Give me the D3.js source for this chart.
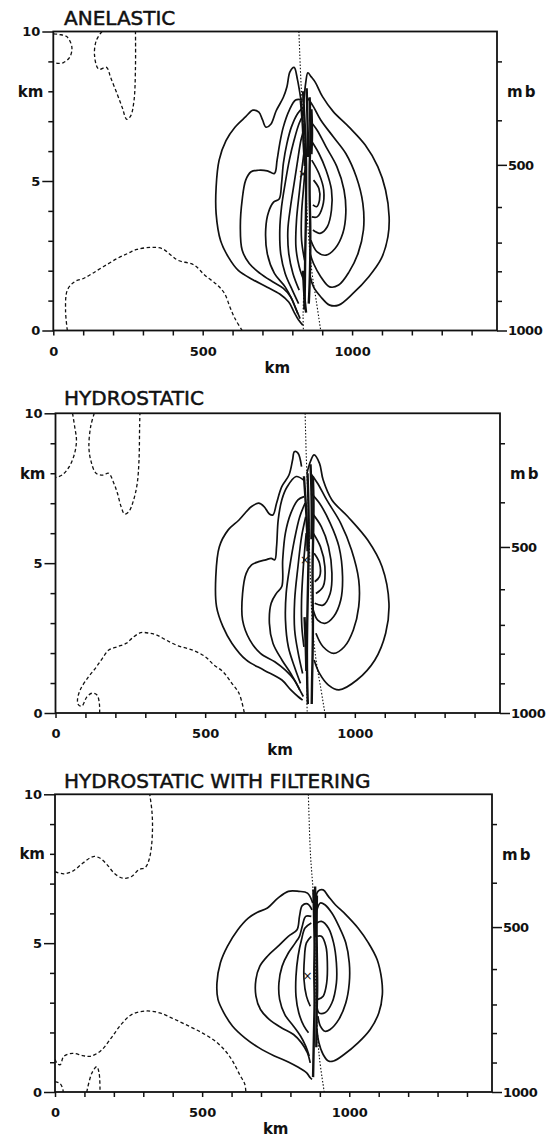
<!DOCTYPE html>
<html>
<head>
<meta charset="utf-8">
<script src="https://cdn.jsdelivr.net/npm/d3@7"></script>
<style>
  html, body { margin: 0; padding: 0; background: #fff; }
  svg { display: block; }
</style>
</head>
<body>
<svg id="chart" width="553" height="1137"></svg>
<script>
// Vertical cross-sections of vertical velocity: three model versions

const titles = ["ANELASTIC", "HYDROSTATIC", "HYDROSTATIC WITH FILTERING"];

// axis values
const xLabelValues = [0, 500, 1000];
const kmLabelValues = [0, 5, 10];
const mbTicks = [1000, 900, 800, 700, 600, 500, 400, 300];
const mbHeights = [0, 0.99, 1.98, 2.94, 4.13, 5.54, 7.03, 9.0]; // km
const mbLabelValues = [500, 1000];

// ---- ANELASTIC (km, km) ----
const anelasticSolid = [
  [[829,7.7],[817,8.4],[806,8.8],[792,8.65],[782,8.15],[770,7.8],[746,7.35],[728,6.9],[712,6.8],[700,7.05],[688,7.3],[668,7.37],[644,7.15],[608,6.8],[578,6.35],[555,5.7],[545,4.8],[545,3.9],[560,3.0],[585,2.47],[620,2.0],[668,1.7],[716,1.45],[758,1.22],[788,0.95],[805,0.63],[821,0.35],[835,0.18]],
  [[835,7.71],[811,7.71],[790,7.37],[770,6.81],[758,6.26],[749,5.7],[740,5.25],[716,5.34],[686,5.36],[662,5.31],[644,5.03],[632,4.36],[626,3.47],[632,2.69],[656,2.24],[692,1.91],[734,1.63],[770,1.41],[794,1.13],[811,0.74],[826,0.4]],
  [[838,7.48],[818,7.26],[797,6.81],[782,6.26],[770,5.59],[764,4.92],[756,4.4],[738,4.3],[720,3.95],[711,3.4],[716,2.58],[740,1.91],[776,1.46],[800,1.02],[818,0.57]],
  [[839,7.26],[823,6.93],[806,6.37],[790,5.7],[776,4.92],[764,4.14],[758,3.36],[761,2.58],[776,1.91],[800,1.35],[821,0.9]],
  [[841,6.81],[829,6.37],[818,5.7],[806,4.92],[794,4.14],[785,3.36],[788,2.58],[802,1.91],[823,1.35]],
  [[843,6.26],[833,5.48],[823,4.58],[814,3.69],[812,2.8],[823,2.13],[838,1.69]],
  [[845,5.7],[838,4.81],[831,3.92],[831,3.02],[841,2.35]],
  [[838,7.6],[845,8.3],[852,8.62],[862,8.5],[877,8.3],[901,7.82],[937,7.32],[990,6.8],[1044,6.2],[1086,5.48],[1112,4.7],[1124,3.8],[1120,3.14],[1098,2.41],[1056,1.8],[1003,1.24],[955,0.85],[925,0.85],[895,1.13],[871,1.46],[860,1.8]],
  [[853,7.76],[871,7.48],[895,7.04],[937,6.48],[979,5.92],[1014,5.14],[1036,4.25],[1038,3.36],[1020,2.58],[990,1.96],[955,1.52],[925,1.46],[895,1.8],[871,2.24],[859,2.58]],
  [[857,7.04],[883,6.7],[913,6.14],[949,5.48],[973,4.7],[979,3.92],[969,3.25],[943,2.74],[913,2.52],[883,2.63],[862,3.02]],
  [[862,6.37],[889,5.92],[913,5.36],[931,4.7],[931,4.03],[917,3.47],[893,3.25],[869,3.36]],
  [[865,5.7],[889,5.25],[905,4.7],[901,4.14],[883,3.8],[865,3.8]],
  [[871,5.03],[889,4.75],[891,4.36],[881,4.14],[869,4.2]]
];
const anelasticCore = [
  [[828,7.7],[834,7.0],[838,6.2],[842,5.5]],
  [[836,8.0],[840,7.2],[844,6.4],[846,5.6],[846,4.5],[845,3.5],[843,2.5],[842,1.5],[840,0.7]],
  [[848,8.1],[850,7.3],[852,6.5],[853,5.8]],
  [[858,7.8],[860,7.0],[860,6.2],[858,5.5],[858,4.5],[860,3.5],[860,2.5],[858,1.6],[855,0.9]],
  [[864,7.4],[866,6.6],[864,5.9]],
  [[836,2.0],[840,1.2],[846,0.6]]
];
const anelasticDashed = [
  [[1,9.92],[20,9.9],[45,9.83],[62,9.49],[56,9.16],[34,8.96],[11,8.94],[1,9.0]],
  [[163,10],[144,9.7],[138,9.2],[152,8.74],[178,8.8],[192,8.46],[214,7.9],[231,7.45],[246,7.06],[259,7.18],[270,7.68],[275,8.8],[275,10]],
  [[47,0],[41,0.68],[47,1.35],[71,1.63],[101,1.74],[131,1.91],[167,2.13],[214,2.41],[250,2.58],[280,2.71],[328,2.78],[364,2.74],[394,2.52],[417,2.35],[471,2.19],[507,1.85],[549,1.52],[573,1.24],[591,0.79],[608,0.4],[632,0]]
];
const anelasticDotted = [
  [[822,10],[828,8.5],[836,7],[845,5],[852,3.5],[865,2],[880,1],[895,0]],
  [[838,1.2],[836,0.5],[837,0]]
];
const anelasticMarks = [[836,5.25]];

// ---- HYDROSTATIC ----
const hydroSolid = [
  [[822,8.22],[810,8.67],[798,8.72],[792,8.44],[780,7.94],[756,7.55],[738.5,7.0],[726.5,6.61],[714.6,6.64],[696.7,6.89],[678.8,7.0],[655,6.89],[613,6.44],[577,6.11],[547.4,5.55],[535.5,4.55],[538,3.55],[559.4,2.88],[589.2,2.33],[637,1.77],[696.7,1.43],[756.4,1.1],[786.2,0.77],[810,0.55],[825.6,0.43]],
  [[828,7.78],[804,7.89],[774,7.55],[756,7.11],[744,6.44],[738.5,5.55],[732.5,5.11],[720.5,5.16],[702.6,5.11],[678.8,5.05],[655,4.94],[637,4.66],[625,3.99],[625,3.1],[649,2.44],[684.7,1.99],[732.5,1.71],[768,1.43],[798,1.1],[816,0.77]],
  [[830.4,7.22],[810,7.11],[786,6.66],[768,6.0],[759,5.11],[756,4.22],[738.5,4.0],[720.5,3.66],[714.6,2.99],[726.5,2.33],[756.4,1.77],[786,1.32],[810,0.88],[828,0.55]],
  [[834,7.0],[816,6.55],[798,5.77],[782.6,4.88],[770.7,4.0],[768.3,3.1],[777.8,2.21],[798,1.55],[818.4,0.99]],
  [[836,6.55],[822,5.88],[810,4.88],[799,3.77],[799,2.77],[811,1.99],[825.6,1.32]],
  [[837.6,6.0],[828,4.88],[822,3.77],[823,2.88],[830,2.21]],
  [[840,8.0],[852,8.4],[864,8.61],[882,8.33],[894,7.78],[923.5,7.11],[977,6.55],[1043,5.77],[1091,4.88],[1114,3.66],[1103,2.66],[1067,1.77],[1007,1.1],[947,0.77],[912,0.93],[882,1.32],[864,1.77]],
  [[852,8.0],[876,7.66],[906,7.11],[953,6.33],[989,5.44],[1013,4.44],[1013,3.55],[995,2.77],[965,2.21],[929.5,1.99],[894,2.21],[870,2.66]],
  [[854,7.33],[882,7.0],[918,6.33],[947,5.55],[959,4.55],[953,3.77],[929.5,3.22],[900,2.99],[876,3.1],[861,3.44]],
  [[858,6.66],[888,6.22],[912,5.55],[923.5,4.66],[917.6,3.99],[894,3.6],[866,3.66]],
  [[861,6.0],[885,5.55],[900,4.88],[894,4.22],[870,3.99]],
  [[864,5.33],[882,5.0],[882,4.55],[866,4.38]]
];
const hydroCore = [
  [[830,7.9],[836,7.0],[840,6.2],[842,5.4]],
  [[842,8.0],[845,7.0],[846,6.0],[845,5.0],[843,4.0],[841,3.0],[840,2.0],[841,1.0],[843,0.3]],
  [[852,8.3],[855,7.4],[856,6.5],[855,5.8]],
  [[860,7.9],[862,7.0],[861,6.0],[859,5.0],[859,4.0],[860,3.0],[859,2.0],[857,1.0],[856,0.3]],
  [[832,3.2],[836,2.2],[838,1.4]]
];
const hydroDashed = [
  [[57,10],[64,9.56],[70,9.11],[64,8.67],[46,8.22],[22,7.94],[1,7.86]],
  [[129.5,10],[117.6,9.56],[111.6,8.89],[117.6,8.44],[135.5,8.0],[159.4,7.94],[177.3,8.0],[195.2,7.66],[207,7.33],[219,6.89],[231,6.64],[245,6.72],[261,7.11],[273,7.66],[279,8.44],[281,9.56],[282,10]],
  [[147.5,0],[146.5,0.32],[138.7,0.6],[121.8,0.66],[105,0.54],[88,0.23],[76.8,0.27],[73.4,0.43],[82.5,0.77],[110.4,1.21],[133,1.49],[155,1.8],[178,2.1],[207,2.21],[237,2.33],[255,2.49],[285,2.68],[314.6,2.66],[338.5,2.6],[368.3,2.44],[410,2.24],[458,2.1],[500,1.88],[529.5,1.6],[559.4,1.38],[589.2,0.99],[613,0.66],[631,0]]
];
const hydroDotted = [
  [[834,10],[838,8.5],[844,7],[850,5],[858,3],[870,1.8],[885,0.9],[900,0]],
  [[842,1.2],[840,0.5],[841,0]]
];
const hydroMarks = [[834,5.1]];

// ---- HYDROSTATIC WITH FILTERING ----
const filterSolid = [
  [[875.7,6.35],[858,6.68],[828.4,6.74],[792.9,6.74],[757.4,6.51],[721.9,6.18],[686.4,6.03],[656.8,5.84],[621.3,5.45],[585.8,4.89],[562.1,4.34],[550.3,3.66],[553.8,3.11],[573.9,2.66],[603.5,2.21],[645,1.82],[692.3,1.49],[745.6,1.21],[792.9,1.01],[828.4,0.82],[854.4,0.65],[867.4,0.48],[873.4,0.42]],
  [[873.4,6.12],[858,6.32],[840.2,6.26],[830.8,5.9],[822.5,5.45],[792.9,5.23],[757.4,4.89],[721.9,4.56],[695.8,4.22],[682.8,3.78],[682.8,3.22],[698.2,2.77],[727.8,2.44],[769.2,2.16],[810.6,1.93],[837.8,1.65],[858,1.31],[867.4,0.98]],
  [[871,5.9],[852,5.9],[840.2,5.57],[830.8,5.23],[816.6,5.01],[792.9,4.67],[771.6,4.22],[760.9,3.66],[763.3,3.11],[781,2.6],[810.6,2.21],[834.3,1.88],[852,1.54],[863.8,1.21]],
  [[871,5.68],[849.6,5.51],[837.8,5.12],[826,4.56],[818.9,3.89],[818.9,3.22],[828.4,2.66],[846.1,2.21],[861.5,1.99]],
  [[871,5.23],[854.4,5.01],[847.3,4.45],[846.1,3.78],[854.4,3.22],[867.4,2.88]],
  [[885.2,6.4],[893.4,6.74],[911.2,6.79],[929,6.57],[952.6,6.29],[988.1,5.96],[1029.6,5.51],[1065,5.01],[1094.6,4.45],[1110,3.78],[1112.4,3.27],[1100.6,2.66],[1071,2.1],[1029.6,1.65],[982.2,1.26],[946.7,1.04],[929,1.04],[911.2,1.26],[897,1.65],[890,2.1]],
  [[890,6.12],[901.8,6.35],[917.2,6.29],[940.8,6.01],[964.5,5.57],[988.1,5.01],[1000,4.34],[1000,3.66],[988.1,2.99],[964.5,2.44],[934.9,2.1],[917.2,2.04],[901.8,2.21],[893.4,2.55]],
  [[890,5.68],[905.3,5.73],[929,5.51],[946.7,5.01],[956.2,4.34],[956.2,3.66],[940.8,2.99],[917.2,2.66],[897,2.66],[890,2.9]],
  [[891.3,5.23],[905.3,5.23],[920.7,4.89],[925.5,4.34],[923.1,3.66],[911.2,3.22],[893.4,3.11]]
];
const filterCore = [
  [[878,6.8],[880,6.0],[882,5.0],[881,4.0],[882,3.0],[880,2.0],[878,1.0],[877,0.5]],
  [[890,6.6],[889,5.5],[890,4.5],[891,3.5],[889,2.5],[888,1.5]],
  [[884,6.9],[885,6.0],[886,5.2]]
];
const filterDashed = [
  [[0,7.4],[29.6,7.33],[59.2,7.41],[94.7,7.69],[130.2,7.91],[153.8,7.85],[177.5,7.63],[201.2,7.35],[230.8,7.18],[260.3,7.24],[284,7.46],[307.7,7.55],[319.5,7.8],[327.8,8.25],[331.4,8.92],[329,9.47],[321.9,10]],
  [[0,1.1],[8,0.95],[18,0.92],[30,1.2],[60,1.3],[95,1.22],[120,1.2],[155,1.38],[190,1.8],[224.8,2.27],[260.3,2.6],[307.7,2.72],[355,2.66],[402.4,2.46],[455.6,2.21],[503,1.97],[544.4,1.71],[579.9,1.37],[603.5,1.04],[627.2,0.59],[645,0.26],[648.5,0]],
  [[108,0],[125,0.63],[142,0.85],[150,0.63],[153,0]],
  [[0,0.35],[17,0.29],[26,0.12],[28,0]]
];
const filterDotted = [
  [[861,10],[868,8],[878,6.6],[884,4.5],[888,2.8],[898,1.2],[915,0]]
];
const filterMarks = [[858,3.9]];

// panel boxes (px)
const boxes = [
  {left: 53.3, right: 497, top: 31.5, bottom: 330.5, titleY: 25},
  {left: 55.5, right: 500, top: 413.3, bottom: 713, titleY: 405},
  {left: 55, right: 492, top: 794.3, bottom: 1092, titleY: 788}
];

const panels = [
  {solid: anelasticSolid, core: anelasticCore, dashed: anelasticDashed, dotted: anelasticDotted, marks: anelasticMarks},
  {solid: hydroSolid, core: hydroCore, dashed: hydroDashed, dotted: hydroDotted, marks: hydroMarks},
  {solid: filterSolid, core: filterCore, dashed: filterDashed, dotted: filterDotted, marks: filterMarks}
];

const svg = d3.select("#chart");
svg.append("rect").attr("width", 553).attr("height", 1137).attr("fill", "#fff");

const labelFont = "'DejaVu Sans', sans-serif";

panels.forEach(function(p, i){
  const b = boxes[i];
  const x = d3.scaleLinear().domain([0, 1485]).range([b.left, b.right]);
  const y = d3.scaleLinear().domain([0, 10]).range([b.bottom, b.top]);

  const g = svg.append("g");

  // title
  g.append("text")
    .attr("x", 64).attr("y", b.titleY)
    .attr("font-family", labelFont)
    .attr("font-size", 20)
    .attr("fill", "#111")
    .attr("stroke", "#111")
    .attr("stroke-width", 0.5)
    .text(titles[i]);

  // clip
  const clipId = "clip" + i;
  g.append("clipPath").attr("id", clipId)
    .append("rect")
    .attr("x", b.left).attr("y", b.top)
    .attr("width", b.right - b.left).attr("height", b.bottom - b.top);

  const plot = g.append("g").attr("clip-path", "url(#" + clipId + ")");

  const line = d3.line()
    .x(d => x(d[0]))
    .y(d => y(d[1]))
    .curve(d3.curveCatmullRom.alpha(0.5));

  // solid contours
  plot.selectAll(".solid")
    .data(p.solid)
    .enter()
    .append("path")
    .attr("class", "solid")
    .attr("d", line)
    .attr("fill", "none")
    .attr("stroke", "#111")
    .attr("stroke-width", 1.7);

  // dense core of the updraft
  plot.selectAll(".core")
    .data(p.core)
    .enter()
    .append("path")
    .attr("class", "core")
    .attr("d", line)
    .attr("fill", "none")
    .attr("stroke", "#111")
    .attr("stroke-width", 2.4);

  // dashed (negative) contours
  plot.selectAll(".dashed")
    .data(p.dashed)
    .enter()
    .append("path")
    .attr("class", "dashed")
    .attr("d", line)
    .attr("fill", "none")
    .attr("stroke", "#111")
    .attr("stroke-width", 1.3)
    .attr("stroke-dasharray", "3.5,2.5");

  // dotted line
  plot.selectAll(".dotted")
    .data(p.dotted)
    .enter()
    .append("path")
    .attr("class", "dotted")
    .attr("d", line)
    .attr("fill", "none")
    .attr("stroke", "#111")
    .attr("stroke-width", 1.1)
    .attr("stroke-dasharray", "1.5,1.8");

  // maximum marks
  plot.selectAll(".mark")
    .data(p.marks)
    .enter()
    .append("text")
    .attr("x", d => x(d[0]))
    .attr("y", d => y(d[1]) + 4)
    .attr("text-anchor", "middle")
    .attr("font-family", labelFont)
    .attr("font-size", 12)
    .attr("fill", "#111")
    .text("×");

  // frame
  g.append("rect")
    .attr("x", b.left).attr("y", b.top)
    .attr("width", b.right - b.left).attr("height", b.bottom - b.top)
    .attr("fill", "none")
    .attr("stroke", "#111")
    .attr("stroke-width", 1.8);

  // bottom axis
  const xAxis = g.append("g")
    .attr("transform", "translate(0," + b.bottom + ")")
    .call(d3.axisBottom(x)
      .tickValues(d3.range(0, 1401, 100))
      .tickSize(5)
      .tickFormat(d => xLabelValues.includes(d) ? d : ""));
  xAxis.select(".domain").remove();
  xAxis.selectAll("line").attr("stroke", "#111").attr("stroke-width", 1.5);
  xAxis.selectAll("text")
    .attr("y", 16)
    .attr("font-family", labelFont)
    .attr("font-weight", "bold")
    .attr("font-size", 13)
    .attr("fill", "#111");

  g.append("text")
    .attr("x", x(750)).attr("y", b.bottom + 42)
    .attr("text-anchor", "middle")
    .attr("font-family", labelFont)
    .attr("font-weight", "bold")
    .attr("font-size", 15)
    .attr("fill", "#111")
    .text("km");

  // left axis (km)
  const yAxis = g.append("g")
    .attr("transform", "translate(" + b.left + ",0)")
    .call(d3.axisLeft(y)
      .tickValues(d3.range(0, 11, 1))
      .tickSize(5)
      .tickFormat(d => kmLabelValues.includes(d) ? d : ""));
  yAxis.select(".domain").remove();
  yAxis.selectAll("line")
    .attr("x2", d => kmLabelValues.includes(d) ? -11 : -5)
    .attr("stroke", "#111").attr("stroke-width", 1.5);
  yAxis.selectAll("text")
    .attr("x", -13)
    .attr("font-family", labelFont)
    .attr("font-weight", "bold")
    .attr("font-size", 13)
    .attr("fill", "#111");

  g.append("text")
    .attr("x", b.left - 10).attr("y", y(8) + 5.5)
    .attr("text-anchor", "end")
    .attr("font-family", labelFont)
    .attr("font-weight", "bold")
    .attr("font-size", 15)
    .attr("fill", "#111")
    .text("km");

  // right axis (mb)
  const rAxis = g.append("g")
    .attr("transform", "translate(" + b.right + ",0)")
    .call(d3.axisRight(y)
      .tickValues(mbHeights)
      .tickSize(5)
      .tickFormat((d, k) => mbLabelValues.includes(mbTicks[k]) ? mbTicks[k] : ""));
  rAxis.select(".domain").remove();
  rAxis.selectAll("line")
    .attr("x2", (d, k) => mbLabelValues.includes(mbTicks[k]) ? 10 : 5)
    .attr("stroke", "#111").attr("stroke-width", 1.5);
  rAxis.selectAll("text")
    .attr("x", 11)
    .attr("font-family", labelFont)
    .attr("font-weight", "bold")
    .attr("font-size", 13)
    .attr("letter-spacing", -0.5)
    .attr("fill", "#111");

  g.append("text")
    .attr("x", b.right + 10).attr("y", y(8) + 6)
    .attr("font-family", labelFont)
    .attr("font-weight", "bold")
    .attr("font-size", 15)
    .attr("letter-spacing", 2)
    .attr("fill", "#111")
    .text("mb");
});
</script>
</body>
</html>
